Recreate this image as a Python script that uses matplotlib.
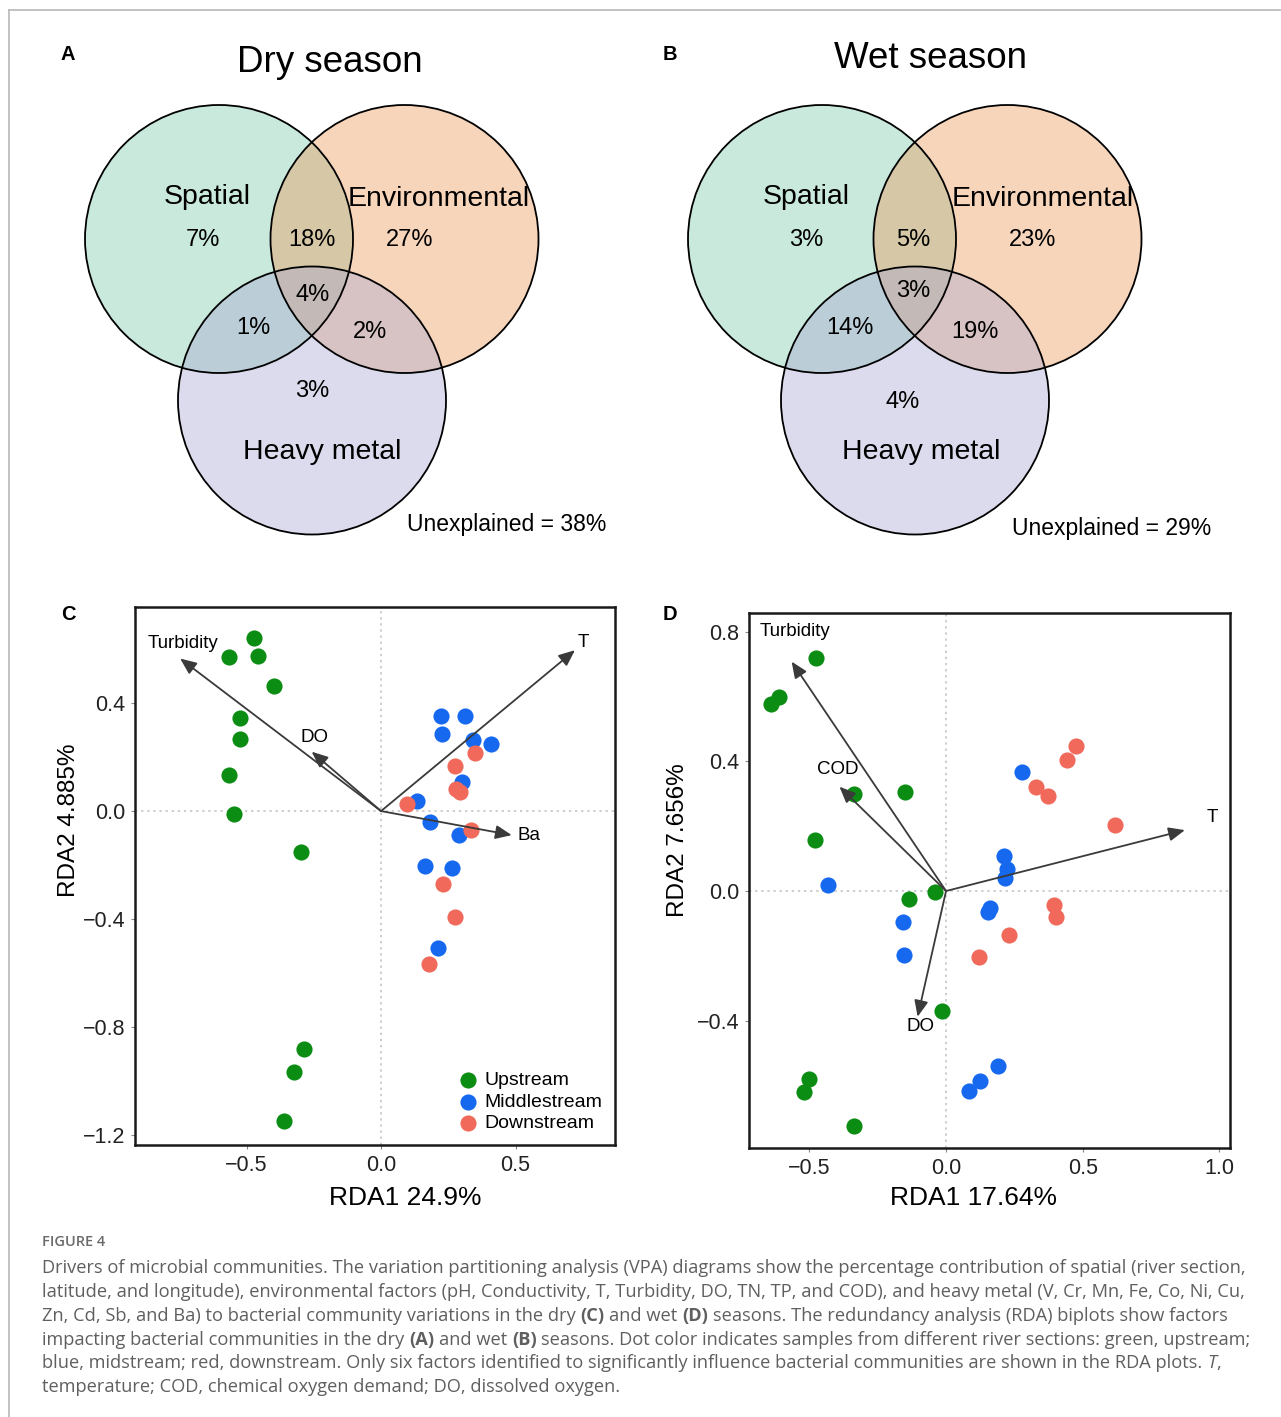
import matplotlib
matplotlib.use('Agg')
import matplotlib.pyplot as plt
from matplotlib.patches import Circle

plt.rcParams['font.family'] = ['Liberation Sans', 'DejaVu Sans']

W, H = 1281, 1417

# ---- VPA (Venn) data: regions S, E, H, SE, SH, EH, SEH ----
set_names = ['Spatial', 'Environmental', 'Heavy metal']
venn_regions = ['S', 'E', 'H', 'SE', 'SH', 'EH', 'SEH']
dry_pct = [7, 27, 3, 18, 1, 2, 4]
wet_pct = [3, 23, 4, 5, 14, 19, 3]
dry_unexplained = 38
wet_unexplained = 29

# ---- RDA dry season (C) ----
dry_up_x = [-0.471, -0.564, -0.458, -0.397, -0.524, -0.523, -0.564, -0.548, -0.297, -0.286, -0.322, -0.362]
dry_up_y = [0.643, 0.569, 0.574, 0.462, 0.344, 0.268, 0.133, -0.009, -0.151, -0.883, -0.968, -1.149]
dry_mid_x = [0.224, 0.314, 0.227, 0.343, 0.408, 0.302, 0.135, 0.183, 0.291, 0.162, 0.265, 0.211]
dry_mid_y = [0.353, 0.353, 0.286, 0.265, 0.249, 0.109, 0.036, -0.042, -0.089, -0.202, -0.211, -0.509]
dry_down_x = [0.351, 0.274, 0.279, 0.294, 0.095, 0.333, 0.232, 0.276, 0.177]
dry_down_y = [0.215, 0.168, 0.083, 0.072, 0.027, -0.070, -0.270, -0.393, -0.568]
dry_vars = ['Turbidity', 'DO', 'T', 'Ba']
dry_vx = [-0.747, -0.258, 0.721, 0.486]
dry_vy = [0.565, 0.220, 0.596, -0.089]

# ---- RDA wet season (D) ----
wet_up_x = [-0.476, -0.610, -0.641, -0.337, -0.149, -0.479, -0.040, -0.134, -0.013, -0.500, -0.520, -0.338]
wet_up_y = [0.718, 0.598, 0.577, 0.298, 0.305, 0.158, -0.004, -0.024, -0.371, -0.580, -0.620, -0.726]
wet_mid_x = [0.277, 0.213, 0.222, 0.216, -0.433, 0.159, 0.153, -0.157, -0.153, 0.189, 0.124, 0.085]
wet_mid_y = [0.366, 0.108, 0.067, 0.039, 0.018, -0.053, -0.066, -0.096, -0.198, -0.539, -0.585, -0.616]
wet_down_x = [0.476, 0.443, 0.329, 0.372, 0.618, 0.395, 0.401, 0.229, 0.121]
wet_down_y = [0.448, 0.405, 0.321, 0.293, 0.204, -0.043, -0.079, -0.137, -0.203]
wet_vars = ['Turbidity', 'COD', 'T', 'DO']
wet_vx = [-0.565, -0.390, 0.874, -0.104]
wet_vy = [0.708, 0.322, 0.188, -0.388]

green, blue, red = '#0b8c12', '#1668ee', '#f0695a'

fig = plt.figure(figsize=(W / 100, H / 100), dpi=100)
bg = fig.add_axes([0, 0, 1, 1])
bg.set_xlim(0, W)
bg.set_ylim(H, 0)
bg.axis('off')

# outer frame (top and left only)
bg.plot([9, W], [10, 10], color='#b8b8b8', lw=1.2, clip_on=False)
bg.plot([9, 9], [10, H], color='#b8b8b8', lw=1.2, clip_on=False)


def venn(cx, cy, title, title_pos, pct, pct_pos, name_pos, unexpl, unexpl_pos):
    fills = [(120 / 255, 202 / 255, 170 / 255), (235 / 255, 152 / 255, 85 / 255), (167 / 255, 167 / 255, 210 / 255)]
    r = 134
    centers = [(cx - 93, cy), (cx + 92.5, cy), (cx, cy + 161.5)]
    for (x, y), c in zip(centers, fills):
        bg.add_patch(Circle((x, y), r, facecolor=c, alpha=0.4, edgecolor='none'))
    for x, y in centers:
        bg.add_patch(Circle((x, y), r, facecolor='none', edgecolor='black', lw=1.3))
    bg.text(*title_pos, title, fontsize=26.5, ha='center', va='center')
    for name, (x, y) in zip(set_names, name_pos):
        bg.text(x, y, name, fontsize=20.5, ha='center', va='center')
    for reg, v in zip(venn_regions, pct):
        x, y = pct_pos[reg]
        bg.text(x, y, f'{v}%', fontsize=17, ha='center', va='center')
    bg.text(*unexpl_pos, f'Unexplained = {unexpl}%', fontsize=16.5, ha='center', va='center')


venn(312, 239, 'Dry season', (330, 62), dry_pct,
     {'S': (203, 240), 'E': (410, 240), 'H': (312, 391), 'SE': (312, 240),
      'SH': (253, 328), 'EH': (370, 332), 'SEH': (313, 295)},
     [(207, 197), (439, 199), (322, 452)], dry_unexplained, (507, 525))
venn(915, 239, 'Wet season', (930, 58), wet_pct,
     {'S': (806, 240), 'E': (1033, 240), 'H': (903, 402), 'SE': (913, 240),
      'SH': (850, 328), 'EH': (975, 332), 'SEH': (913, 291)},
     [(806, 197), (1043, 199), (921, 452)], wet_unexplained, (1112, 529))

for lab, (x, y) in zip('ABCD', [(68, 54), (670, 54), (68, 614), (670, 614)]):
    bg.text(x, y, lab, fontsize=14.5, fontweight='bold', ha='center', va='center')


def px_axes(x0, y0, x1, y1):
    return fig.add_axes([x0 / W, 1 - y1 / H, (x1 - x0) / W, (y1 - y0) / H])


def rda(ax, ux, uy, mx, my, dx, dy, names, vx, vy, offs, xlim, ylim, xticks, yticks):
    ax.set_xlim(*xlim)
    ax.set_ylim(*ylim)
    ax.axhline(0, color='#c0c0c0', ls=(0, (1.5, 2.5)), lw=1.1, zorder=1)
    ax.axvline(0, color='#c0c0c0', ls=(0, (1.5, 2.5)), lw=1.1, zorder=1)
    ax.scatter(ux, uy, s=135, color=green, lw=0, zorder=2, label='Upstream')
    ax.scatter(mx, my, s=135, color=blue, lw=0, zorder=2, label='Middlestream')
    ax.scatter(dx, dy, s=135, color=red, lw=0, zorder=2, label='Downstream')
    for n, x, y in zip(names, vx, vy):
        ax.annotate('', xy=(x, y), xytext=(0, 0), zorder=3,
                    arrowprops=dict(arrowstyle='-|>,head_length=0.7,head_width=0.3', color='#3a3a3a',
                                    lw=1.3, shrinkA=0, shrinkB=0, mutation_scale=14))
        ax.annotate(n, xy=(x, y), xytext=offs[n], textcoords='offset pixels',
                    ha='center', va='center', fontsize=13.5, zorder=4)
    ax.set_xticks(xticks)
    ax.set_yticks(yticks)
    ax.tick_params(direction='out', length=3, width=0.8, color='#888888',
                   labelsize=15.5, labelcolor='#222222', pad=4)
    for s in ax.spines.values():
        s.set_linewidth(1.8)
        s.set_color('#1a1a1a')


axc = px_axes(135, 607, 615, 1145)
rda(axc, dry_up_x, dry_up_y, dry_mid_x, dry_mid_y, dry_down_x, dry_down_y,
    dry_vars, dry_vx, dry_vy,
    {'Turbidity': (3, 15), 'DO': (3, 14), 'T': (8, 8), 'Ba': (17, 0)},
    (-0.915, 0.870), (-1.237, 0.756), [-0.5, 0.0, 0.5], [0.4, 0.0, -0.4, -0.8, -1.2])
axc.legend(loc='lower right', bbox_to_anchor=(1.0, 0.0), frameon=False, fontsize=14,
           borderaxespad=0.3, borderpad=0.35, handlelength=1.2, handletextpad=0.25,
           labelspacing=0.2, scatterpoints=1)

axd = px_axes(749, 613, 1230, 1148)
rda(axd, wet_up_x, wet_up_y, wet_mid_x, wet_mid_y, wet_down_x, wet_down_y,
    wet_vars, wet_vx, wet_vy,
    {'Turbidity': (3, 30), 'COD': (-2, 17), 'T': (27, 13), 'DO': (3, -10)},
    (-0.721, 1.039), (-0.793, 0.858), [-0.5, 0.0, 0.5, 1.0], [0.8, 0.4, 0.0, -0.4])

bg.text(405, 1198, 'RDA1 24.9%', fontsize=19, ha='center', va='center')
bg.text(69, 820, 'RDA2 4.885%', fontsize=17.5, rotation=90, ha='center', va='center')
bg.text(973, 1198, 'RDA1 17.64%', fontsize=19, ha='center', va='center')
bg.text(678, 840, 'RDA2 7.656%', fontsize=17.5, rotation=90, ha='center', va='center')

# ---- caption ----
cap_font = ['Open Sans', 'DejaVu Sans']
cap_color = '#5f5f5f'
bg.text(42, 1242, 'FIGURE 4', fontsize=10.5, color='#6a6a6a', family=cap_font,
        fontweight='semibold', ha='left', va='center')

cap_lines = [
    [('Drivers of microbial communities. The variation partitioning analysis (VPA) diagrams show the '
      'percentage contribution of spatial (river section,', 'n', False)],
    [('latitude, and longitude), environmental factors (pH, Conductivity, T, Turbidity, DO, TN, TP, '
      'and COD), and heavy metal (V, Cr, Mn, Fe, Co, Ni, Cu,', 'n', False)],
    [('Zn, Cd, Sb, and Ba) to bacterial community variations in the dry', 'n', False), ('(C)', 'b', True),
     ('and wet', 'n', True), ('(D)', 'b', True),
     ('seasons. The redundancy analysis (RDA) biplots show factors', 'n', True)],
    [('impacting bacterial communities in the dry', 'n', False), ('(A)', 'b', True), ('and wet', 'n', True),
     ('(B)', 'b', True), ('seasons. Dot color indicates samples from different river sections: green, upstream;',
                          'n', True)],
    [('blue, midstream; red, downstream. Only six factors identified to significantly influence bacterial '
      'communities are shown in the RDA plots.', 'n', False), ('T', 'i', True), (',', 'n', False)],
    [('temperature; COD, chemical oxygen demand; DO, dissolved oxygen.', 'n', False)],
]
cap_y = [1268, 1292, 1316, 1340, 1363, 1387]

renderer = fig.canvas.get_renderer()
probe = bg.text(0, 0, cap_lines[0][0][0], fontsize=12, family=cap_font)
cap_size = 12 * 1200 / probe.get_window_extent(renderer).width
probe.remove()
sp = bg.text(0, 0, 'x x', fontsize=cap_size, family=cap_font)
sp2 = bg.text(0, 0, 'xx', fontsize=cap_size, family=cap_font)
space_w = sp.get_window_extent(renderer).width - sp2.get_window_extent(renderer).width
sp.remove()
sp2.remove()

for line, y in zip(cap_lines, cap_y):
    x = 42
    for txt, style, gap in line:
        if gap:
            x += space_w
        t = bg.text(x, y, txt, fontsize=cap_size, family=cap_font, color=cap_color,
                    fontweight='bold' if style == 'b' else 'normal',
                    fontstyle='italic' if style == 'i' else 'normal', ha='left', va='center')
        x = t.get_window_extent(renderer).x1

fig.savefig('out.png', dpi=100)
